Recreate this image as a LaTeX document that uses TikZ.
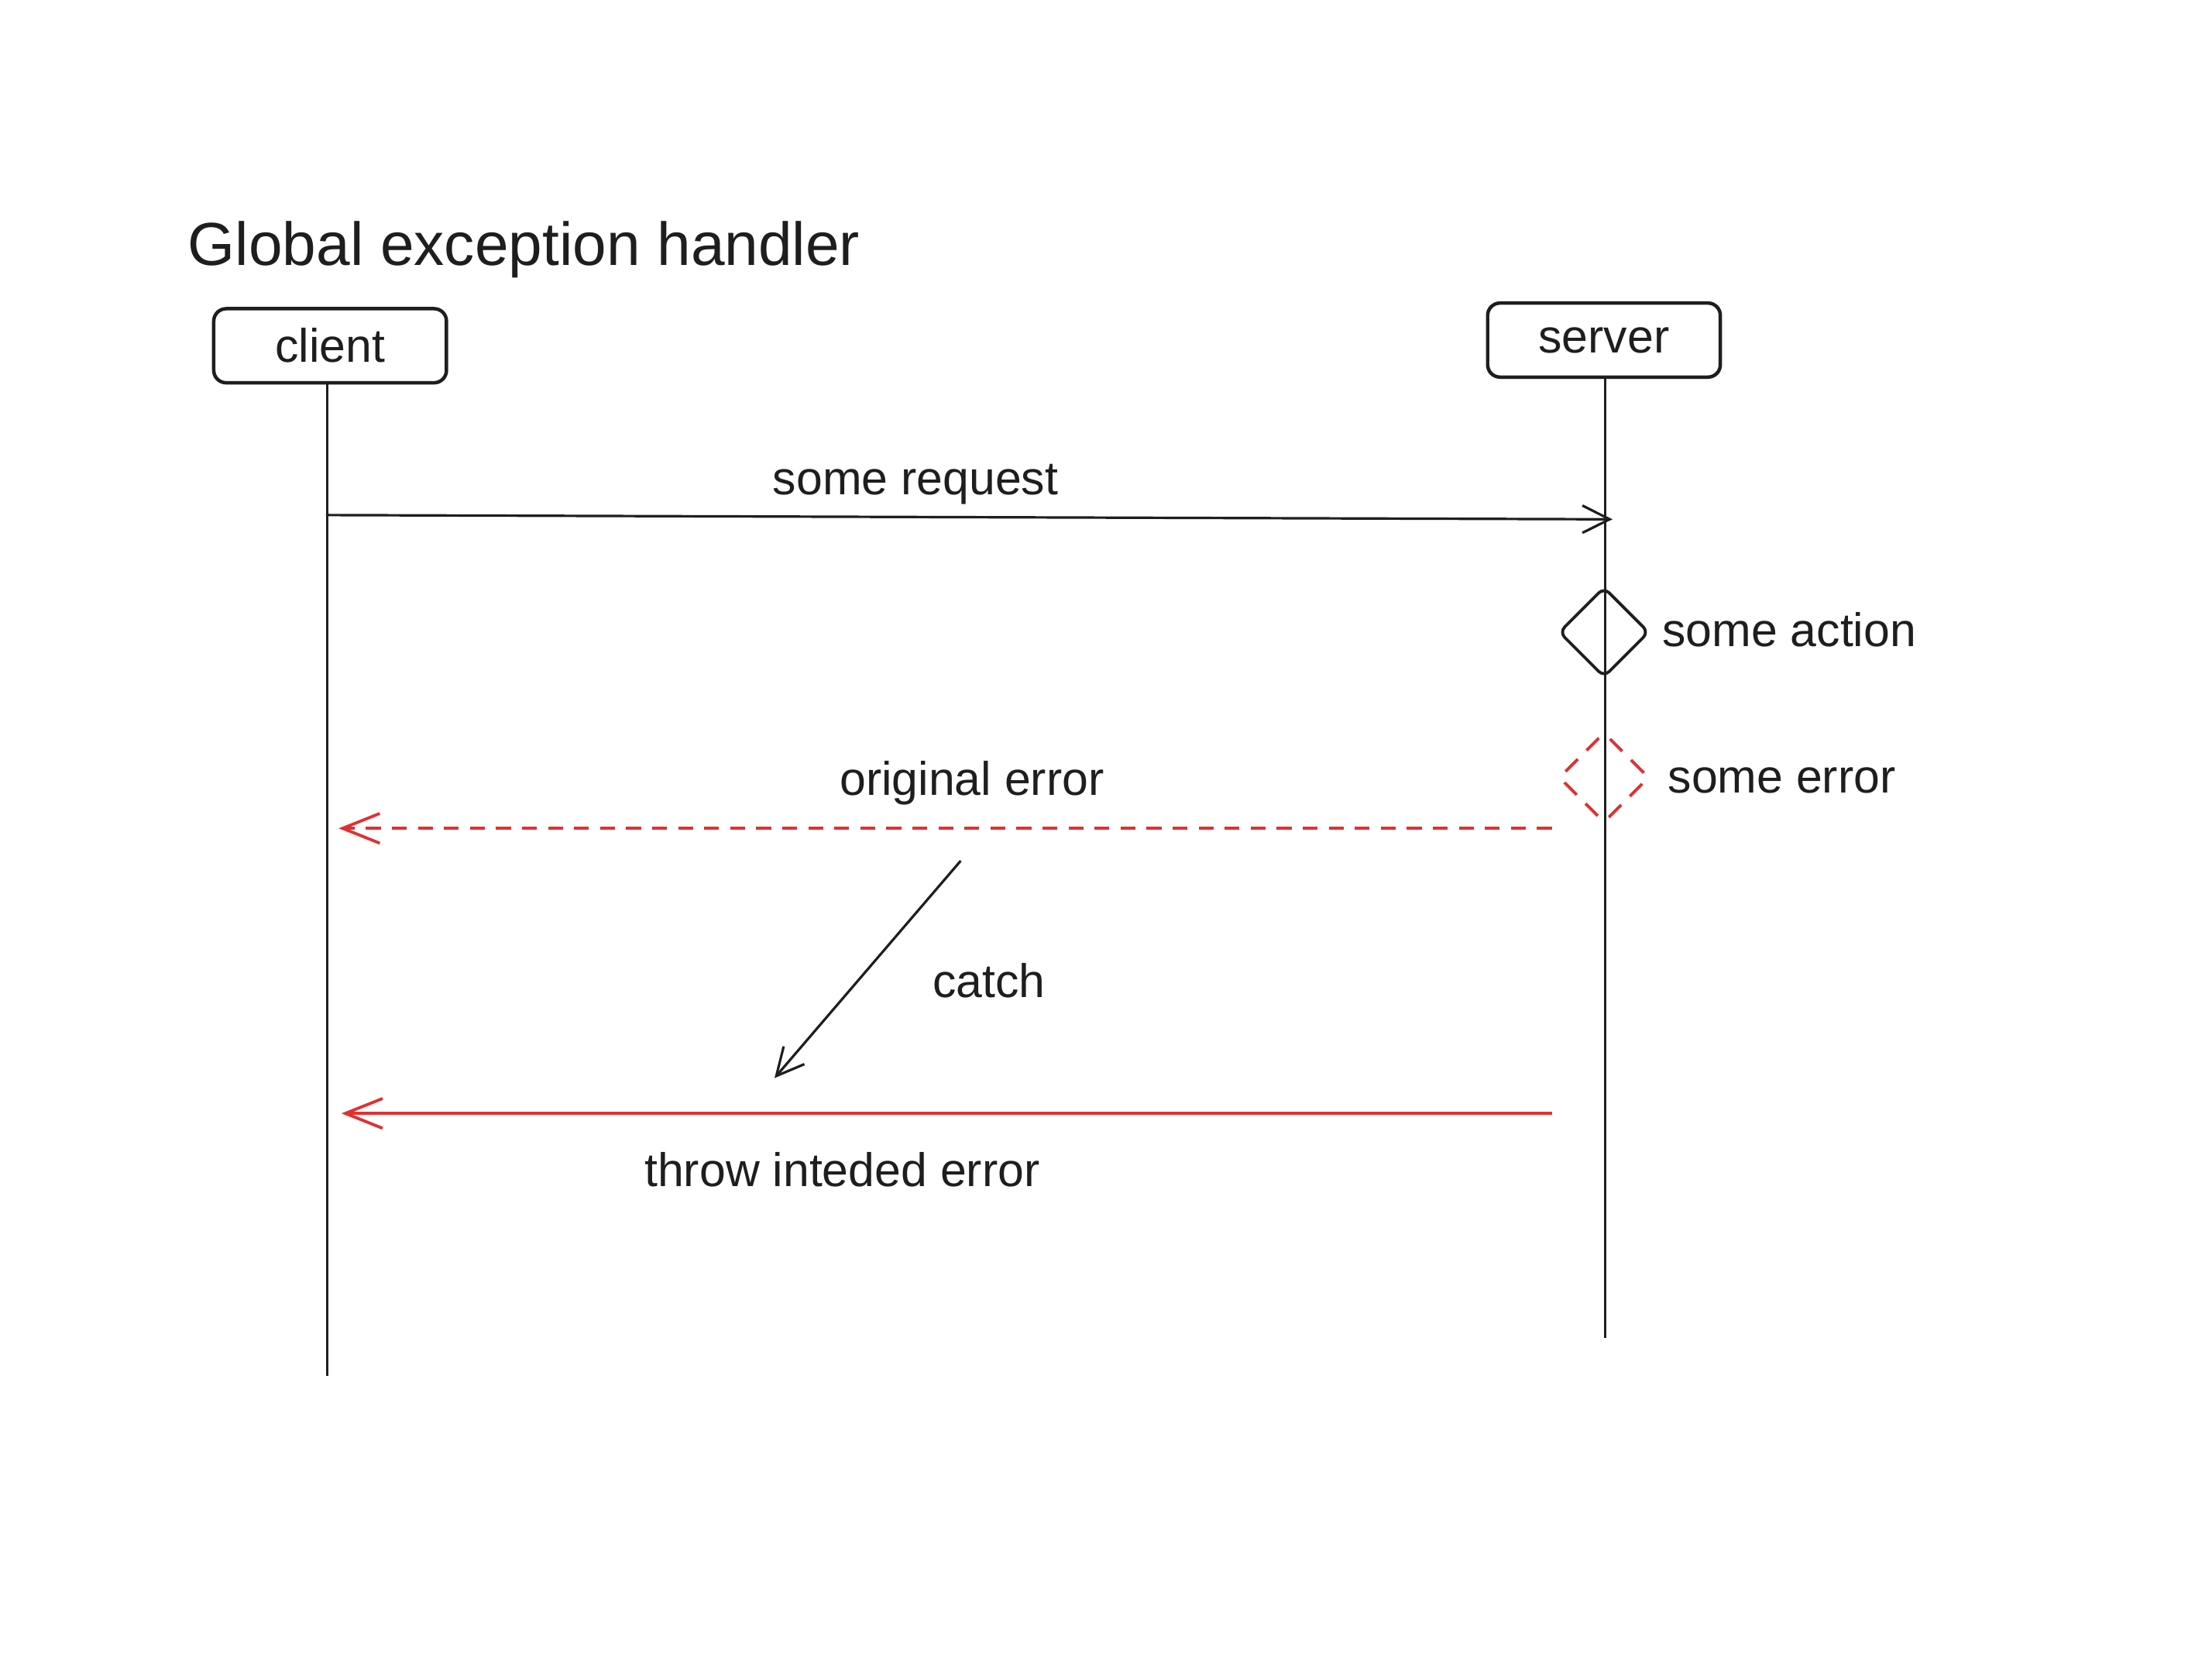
\documentclass[tikz,border=0pt]{standalone}
\usepackage{fontspec}
\setmainfont{Liberation Sans}
\usetikzlibrary{arrows.meta,shapes.geometric}
\definecolor{ink}{HTML}{1E1E1E}
\definecolor{exred}{HTML}{E03131}
\tikzset{
  actor/.style={draw=ink, line width=1.4pt, rounded corners=5pt, minimum width=3.3cm, minimum height=1.05cm, inner sep=0pt, font=\fontsize{19}{22}\selectfont, text=ink},
  lifeline/.style={draw=ink, line width=1pt},
  msg/.style={draw=ink, line width=1pt, -{Straight Barb[length=11pt,width=11pt,line width=1pt]}},
  errmsg/.style={draw=exred, line width=1.2pt, -{Straight Barb[length=15pt,width=12pt,line width=1.2pt]}},
  actdiamond/.style={diamond, draw=ink, line width=1.2pt, rounded corners=3pt, minimum width=1.28cm, minimum height=1.28cm, inner sep=0pt},
  errdiamond/.style={diamond, draw=exred, line width=1.2pt, dash pattern=on 7pt off 5pt, rounded corners=3pt, minimum width=1.28cm, minimum height=1.28cm, inner sep=0pt},
  lbl/.style={font=\fontsize{19}{22}\selectfont, text=ink, inner sep=0pt},
  ttl/.style={font=\fontsize{24.5}{29}\selectfont, text=ink, inner sep=0pt}
}
\begin{document}
\begin{tikzpicture}[x=0.02cm, y=-0.02cm]
\useasboundingbox[fill=white] (0,0) rectangle (1568,1177);

\node[ttl, anchor=west] (title) at (133,177) {Global exception handler};

\node[actor] (client) at (234,245) {client};
\node[actor] (server) at (1137,241) {server};

\coordinate (cend) at (232,975);
\coordinate (send) at (1138,948);
\draw[lifeline] (client.south -| cend) -- (cend);
\draw[lifeline] (server.south -| send) -- (send);

% some request
\coordinate (rq1) at (231,365);
\coordinate (rq2) at (1143,368);
\draw[msg] (rq1) -- (rq2);
\node[lbl] (lrq) at (649,343) {some request};

% some action
\node[actdiamond] (act) at (1137,448) {};
\node[lbl, anchor=west] (lact) at (1178,446) {some action};

% some error
\node[errdiamond] (err) at (1137,551) {};
\node[lbl, anchor=west] (lerr) at (1182,553) {some error};

% original error
\coordinate (oe1) at (1100,587);
\coordinate (oe2) at (240,587);
\draw[errmsg, dash pattern=on 6pt off 4.5pt] (oe1) -- (oe2);
\node[lbl] (loe) at (689,555) {original error};

% catch
\coordinate (ca1) at (681,610);
\coordinate (ca2) at (549,764);
\draw[msg] (ca1) -- (ca2);
\node[lbl] (lca) at (701,695) {catch};

% throw
\coordinate (th1) at (1100,789);
\coordinate (th2) at (242,789);
\draw[errmsg] (th1) -- (th2);
\node[lbl] (lth) at (597,829) {throw inteded error};
\end{tikzpicture}
\end{document}
